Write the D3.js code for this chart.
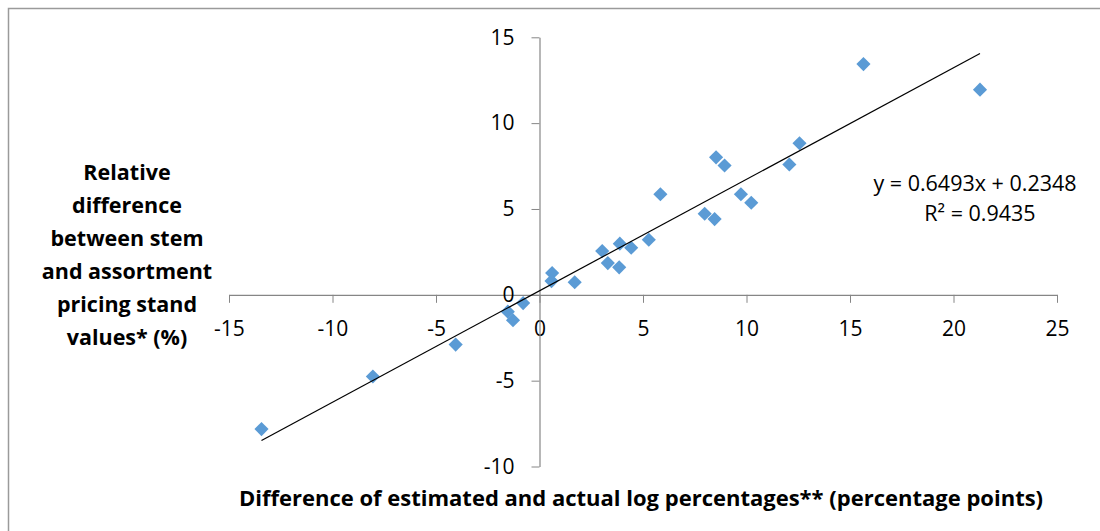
<!DOCTYPE html>
<meta charset="utf-8">
<script src="https://d3js.org/d3.v7.min.js"></script>
<style>
  body { margin: 0; background: #fff; }
  text { font-family: "Open Sans", Lato, sans-serif; }
</style>
<div id="my_dataviz"></div>
<script>
// data
var xVals = [15.65, 21.28, 12.56, 12.07, 8.53, 8.94, 5.84, 9.73, 10.23, 7.98, 8.46, 5.28, 3.88, 4.43, 3.03, 3.30, 3.85, 1.70, 0.61, 0.58, -0.79, -1.53, -1.28, -4.05, -8.05, -13.43];
var yVals = [13.44, 11.95, 8.83, 7.59, 8.01, 7.53, 5.86, 5.86, 5.36, 4.72, 4.41, 3.21, 2.98, 2.74, 2.55, 1.85, 1.60, 0.73, 1.27, 0.80, -0.48, -0.98, -1.48, -2.90, -4.76, -7.82];
var xTicks = [-15, -10, -5, 0, 5, 10, 15, 20, 25];
var yTicks = [-10, -5, 0, 5, 10, 15];
var trendSlope = 0.6493, trendIntercept = 0.2348;
var eqLines = ["y = 0.6493x + 0.2348", "R² = 0.9435"];
var yTitleLines = ["Relative", "difference", "between stem", "and assortment", "pricing stand", "values* (%)"];
var xTitle = "Difference of estimated and actual log percentages** (percentage points)";

var W = 1100, H = 531;
var svg = d3.select("#my_dataviz").append("svg")
    .attr("width", W).attr("height", H);

// chart border (only top/left visible)
svg.append("rect")
    .attr("x", 8.5).attr("y", 8.5)
    .attr("width", W).attr("height", H)
    .attr("fill", "none").attr("stroke", "#9a9a9a").attr("stroke-width", 1.5);

var x = d3.scaleLinear().domain([-15, 25]).range([229, 1057]);
var y = d3.scaleLinear().domain([-10, 15]).range([466.5, 37.3]);

var axisColor = "#868686";
var fmt = d => String(d);  // plain hyphen minus like the original

// x axis through y=0
var gx = svg.append("g")
    .attr("transform", "translate(0," + y(0) + ")")
    .call(d3.axisBottom(x).tickValues(xTicks).tickFormat(fmt).tickSize(8).tickSizeOuter(0).tickPadding(18));
gx.selectAll("text").style("font-size", "21px").attr("fill", "#000")
    .style("font-family", "'Open Sans', sans-serif");
gx.selectAll("line").attr("stroke", axisColor);
gx.select(".domain").attr("stroke", axisColor).attr("stroke-width", 1.2);

// y axis through x=0
var gy = svg.append("g")
    .attr("transform", "translate(" + x(0) + ",0)")
    .call(d3.axisLeft(y).tickValues(yTicks).tickFormat(fmt).tickSize(8).tickSizeOuter(0).tickPadding(17));
gy.selectAll("text").style("font-size", "21px").attr("fill", "#000")
    .style("font-family", "'Open Sans', sans-serif");
gy.selectAll("line").attr("stroke", axisColor);
gy.select(".domain").attr("stroke", axisColor).attr("stroke-width", 1.2);

// points
var pts = xVals.map((v, i) => ({x: v, y: yVals[i]}));
svg.append("g").selectAll("path")
    .data(pts)
    .enter().append("path")
    .attr("d", d3.symbol(d3.symbolSquare, 100))
    .attr("transform", d => "translate(" + x(d.x) + "," + y(d.y) + ") rotate(45)")
    .attr("fill", "#5B9BD5");

// linear trend line
var xMin = d3.min(xVals), xMax = d3.max(xVals);
svg.append("line")
    .attr("x1", x(xMin)).attr("y1", y(trendSlope * xMin + trendIntercept))
    .attr("x2", x(xMax)).attr("y2", y(trendSlope * xMax + trendIntercept))
    .attr("stroke", "#000").attr("stroke-width", 1.2);

// equation label
svg.append("g").selectAll("text")
    .data(eqLines)
    .enter().append("text")
    .attr("x", (d, i) => i == 0 ? 975 : 980)
    .attr("y", (d, i) => 191 + i * 30)
    .attr("text-anchor", "middle")
    .style("font-size", "21.5px")
    .text(d => d);

// y axis title
svg.append("g").selectAll("text")
    .data(yTitleLines)
    .enter().append("text")
    .attr("x", 127)
    .attr("y", (d, i) => 180 + i * 33)
    .attr("text-anchor", "middle")
    .style("font-size", "21.5px").style("font-weight", "bold")
    .text(d => d);

// x axis title
svg.append("text")
    .attr("x", 641).attr("y", 506)
    .attr("text-anchor", "middle")
    .style("font-size", "22px").style("font-weight", "bold")
    .text(xTitle);
</script>
